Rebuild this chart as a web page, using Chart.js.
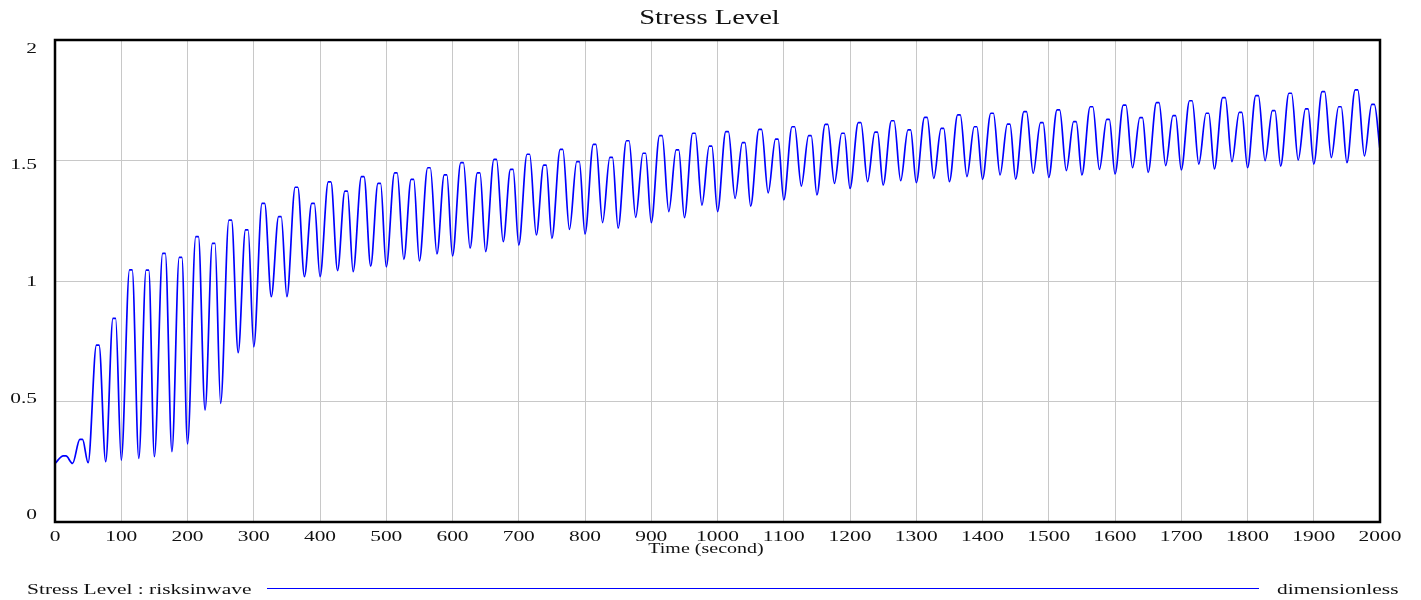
<!DOCTYPE html>
<html>
<head>
<meta charset="utf-8">
<title>Stress Level</title>
<script src="https://cdn.jsdelivr.net/npm/chart.js@4/dist/chart.umd.min.js"></script>
<style>
  html, body { margin: 0; padding: 0; background: #fff; }
  #wrap { width: 1421px; height: 600px; }
</style>
</head>
<body>
<div id="wrap"><canvas id="chart-stress" width="1421" height="600"></canvas></div>
<script>
// valeurs (une bosse toutes les 25 s)
const startValue = 0.243;
const peakValues = [0.274, 0.343, 0.734, 0.845, 1.046, 1.045, 1.115, 1.098, 1.184, 1.156,
  1.253, 1.212, 1.322, 1.267, 1.389, 1.322, 1.411, 1.373, 1.433, 1.405,
  1.449, 1.422, 1.470, 1.440, 1.491, 1.449, 1.505, 1.463, 1.526, 1.481,
  1.546, 1.495, 1.567, 1.513, 1.582, 1.530, 1.603, 1.544, 1.613, 1.560,
  1.620, 1.574, 1.629, 1.589, 1.640, 1.603, 1.650, 1.613, 1.657, 1.618,
  1.665, 1.627, 1.679, 1.633, 1.689, 1.640, 1.696, 1.651, 1.703, 1.657,
  1.710, 1.661, 1.723, 1.671, 1.730, 1.678, 1.740, 1.686, 1.748, 1.696,
  1.761, 1.700, 1.769, 1.707, 1.779, 1.714, 1.786, 1.723, 1.793, 1.733];
const troughValues = [0.243, 0.246, 0.250, 0.257, 0.264, 0.271, 0.292, 0.324, 0.465, 0.492,
  0.703, 0.727, 0.935, 0.935, 1.018, 1.018, 1.043, 1.039, 1.062, 1.059,
  1.090, 1.083, 1.112, 1.104, 1.136, 1.122, 1.163, 1.149, 1.191, 1.177,
  1.214, 1.195, 1.242, 1.219, 1.264, 1.242, 1.288, 1.263, 1.315, 1.288,
  1.343, 1.311, 1.366, 1.336, 1.394, 1.357, 1.405, 1.384, 1.412, 1.398,
  1.416, 1.408, 1.426, 1.412, 1.433, 1.422, 1.440, 1.423, 1.447, 1.430,
  1.458, 1.440, 1.463, 1.444, 1.470, 1.451, 1.479, 1.461, 1.485, 1.465,
  1.495, 1.470, 1.499, 1.477, 1.502, 1.485, 1.512, 1.491, 1.519, 1.544];
const period = 25;
const endTime = 2000;
const xTicks = [0, 100, 200, 300, 400, 500, 600, 700, 800, 900, 1000,
  1100, 1200, 1300, 1400, 1500, 1600, 1700, 1800, 1900, 2000];
const yTicks = [0, 0.5, 1, 1.5, 2];

// suite de points : creux, sommet de la bosse, creux suivant
const points = [{ x: 0, y: startValue }];
peakValues.forEach((p, k) => {
  const t0 = k * period;
  points.push({ x: t0 + 12.5, y: p });
  points.push({ x: t0 + 16.5, y: p });
  const tEnd = k === peakValues.length - 1 ? endTime : t0 + (k % 2 === 0 ? 26.5 : 25);
  points.push({ x: tEnd, y: troughValues[k] });
});

const SX = 1.43;
const FONT = '"Liberation Serif", "Times New Roman", serif';

function wideText(ctx, text, x, y, align, size) {
  ctx.save();
  ctx.font = size + 'px ' + FONT;
  ctx.fillStyle = '#111';
  ctx.textAlign = align;
  ctx.textBaseline = 'alphabetic';
  ctx.translate(x, y);
  ctx.scale(SX, 1);
  ctx.fillText(text, 0, 0);
  ctx.restore();
}

const vensimLook = {
  id: 'vensimLook',
  afterDraw(chart) {
    const ctx = chart.ctx;
    const a = chart.chartArea;
    const xs = chart.scales.x, ys = chart.scales.y;

    // cadre
    ctx.save();
    ctx.strokeStyle = '#000';
    ctx.lineWidth = 2.5;
    ctx.strokeRect(a.left, a.top, a.right - a.left, a.bottom - a.top);
    ctx.restore();

    wideText(ctx, 'Stress Level', 709.5, 24, 'center', 20);

    // graduations Y (les extremes sont ramenees vers l'interieur)
    const mid = (a.top + a.bottom) / 2;
    yTicks.forEach(v => {
      const py = mid + (ys.getPixelForValue(v) - mid) * 0.967;
      wideText(ctx, String(v), 37, py + 5, 'right', 15);
    });
    xTicks.forEach(v => {
      wideText(ctx, String(v), xs.getPixelForValue(v), 541, 'center', 15);
    });
    wideText(ctx, 'Time (second)', 706, 553, 'center', 14);

    // legende
    wideText(ctx, 'Stress Level : risksinwave', 27, 594, 'left', 15);
    ctx.save();
    ctx.strokeStyle = '#0000ff';
    ctx.lineWidth = 1;
    ctx.beginPath();
    ctx.moveTo(267, 588.5);
    ctx.lineTo(1259, 588.5);
    ctx.stroke();
    ctx.restore();
    wideText(ctx, 'dimensionless', 1277, 594, 'left', 15);
  }
};

new Chart(document.getElementById('chart-stress').getContext('2d'), {
  type: 'line',
  data: {
    datasets: [{
      label: 'Stress Level : risksinwave',
      data: points,
      borderColor: '#0000ff',
      borderWidth: 1.7,
      pointRadius: 0,
      fill: false,
      cubicInterpolationMode: 'monotone'
    }]
  },
  options: {
    responsive: false,
    animation: false,
    devicePixelRatio: 1,
    layout: { padding: { left: 55, right: 41, top: 40, bottom: 78 } },
    plugins: {
      legend: { display: false },
      title: { display: false },
      tooltip: { enabled: false }
    },
    scales: {
      x: {
        type: 'linear',
        min: 0,
        max: endTime,
        afterBuildTicks: s => { s.ticks = xTicks.map(v => ({ value: v })); },
        ticks: { display: false },
        grid: { color: '#c8c8c8', lineWidth: 1, drawTicks: false },
        border: { display: false }
      },
      y: {
        min: 0,
        max: 2,
        afterBuildTicks: s => { s.ticks = yTicks.map(v => ({ value: v })); },
        ticks: { display: false },
        grid: { color: '#c8c8c8', lineWidth: 1, drawTicks: false },
        border: { display: false }
      }
    }
  },
  plugins: [vensimLook]
});
</script>
</body>
</html>
